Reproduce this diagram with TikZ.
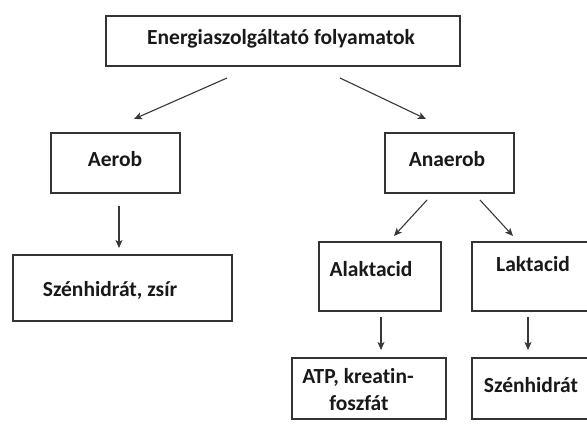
\documentclass[tikz,border=0pt]{standalone}
\usepackage{fontspec}
\setmainfont{Carlito}[RawFeature={-liga}]
\usetikzlibrary{arrows.meta}
\begin{document}
\begin{tikzpicture}[x=1pt,y=-1pt,
  box/.style={draw=black!80, line width=1.6pt, inner sep=0pt, outer sep=0pt},
  lbl/.style={font=\bfseries\fontsize{21.5}{26}\selectfont, text=black!90, inner sep=0pt, anchor=base},
  arr/.style={draw=black!78, line width=1.1pt, -{Stealth[length=8pt,width=7pt,inset=2pt]}}]
\useasboundingbox (0,0) rectangle (587,428);
\clip (0,0) rectangle (587,428);
\fill[white] (0,0) rectangle (587,428);
% boxes
\node[box, minimum width=354pt, minimum height=50pt] (top) at (283,41) {};
\node[box, minimum width=129pt, minimum height=60pt] (aerob) at (115.5,163) {};
\node[box, minimum width=129pt, minimum height=60pt] (anaerob) at (449.5,163) {};
\node[box, minimum width=219pt, minimum height=66pt] (szzs) at (122.5,288) {};
\node[box, minimum width=122pt, minimum height=69pt] (alak) at (380,276.5) {};
\node[box, minimum width=120pt, minimum height=69pt] (lak) at (532,276.5) {};
\node[box, minimum width=154pt, minimum height=61pt] (atp) at (369,388.5) {};
\node[box, minimum width=120pt, minimum height=61pt] (szh) at (532,388.5) {};
% labels
\node[lbl] (topT) at (281,45) {Energiaszolgáltató folyamatok};
\node[lbl] (aerobT) at (115,166) {Aerob};
\node[lbl] (anaerobT) at (447,166) {Anaerob};
\node[lbl] (szzsT) at (110,296) {Szénhidrát, zsír};
\node[lbl] (alakT) at (371,276) {Alaktacid};
\node[lbl] (lakT) at (533,271) {Laktacid};
\node[lbl] (atpT1) at (358,383) {ATP, kreatin-};
\node[lbl] (atpT2) at (359,410) {foszfát};
\node[lbl] (szhT) at (531,392) {Szénhidrát};
% arrow end points
\coordinate (c1) at (227,78);  \coordinate (c2) at (134,119);
\coordinate (c3) at (340,78);  \coordinate (c4) at (426,119);
\coordinate (c5) at (119,206); \coordinate (c6) at (119,248);
\coordinate (c7) at (427,200); \coordinate (c8) at (394,236);
\coordinate (c9) at (480,200); \coordinate (c10) at (513,236);
\coordinate (c11) at (381,317); \coordinate (c12) at (381,350);
\coordinate (c13) at (528,317); \coordinate (c14) at (528,350);
\draw[arr] (c1) -- (c2);
\draw[arr] (c3) -- (c4);
\draw[arr] (c5) -- (c6);
\draw[arr] (c7) -- (c8);
\draw[arr] (c9) -- (c10);
\draw[arr] (c11) -- (c12);
\draw[arr] (c13) -- (c14);
\end{tikzpicture}
\end{document}
